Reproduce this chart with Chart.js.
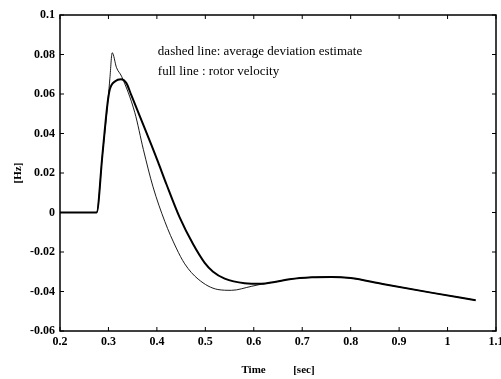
<!DOCTYPE html>
<html>
<head>
<meta charset="utf-8">
<script src="https://cdn.jsdelivr.net/npm/chart.js@4/dist/chart.umd.min.js"></script>
<style>
  html, body { margin: 0; padding: 0; background: #fff; }
  #wrap { width: 501px; height: 379px; }
</style>
</head>
<body>
<div id="wrap"><canvas id="chart" width="501" height="379"></canvas></div>
<script>
// rotor velocity (full line)
const velTime = [0.2, 0.2756, 0.2875, 0.298, 0.303, 0.314, 0.326, 0.337, 0.347, 0.368, 0.389, 0.4025, 0.4197, 0.447, 0.4746, 0.4987, 0.516, 0.540, 0.581, 0.6155, 0.643, 0.674, 0.72, 0.76, 0.80, 0.866, 0.969, 1.058];
const velHz = [0, 0, 0.029, 0.055, 0.0625, 0.0665, 0.0675, 0.0655, 0.0595, 0.0468, 0.034, 0.0255, 0.0143, -0.0025, -0.016, -0.0255, -0.03, -0.0335, -0.0358, -0.0361, -0.0352, -0.0338, -0.0328, -0.0326, -0.0332, -0.0362, -0.0407, -0.0444];

// average deviation estimate (thin line)
const estTime = [0.2, 0.2756, 0.2875, 0.2995, 0.303, 0.3078, 0.3167, 0.327, 0.3545, 0.372, 0.392, 0.4163, 0.440, 0.4575, 0.485, 0.526, 0.5536, 0.5948, 0.6155, 0.643, 0.674, 0.72, 0.76, 0.80, 0.866, 0.969, 1.058];
const estHz = [0, 0, 0.029, 0.058, 0.068, 0.0809, 0.0733, 0.069, 0.0505, 0.032, 0.013, -0.0045, -0.018, -0.026, -0.0337, -0.039, -0.0394, -0.0374, -0.0363, -0.0352, -0.0338, -0.0328, -0.0326, -0.0332, -0.0362, -0.0407, -0.0444];

const xTicks = [0.2, 0.3, 0.4, 0.5, 0.6, 0.7, 0.8, 0.9, 1.0, 1.1];
const xTickLabels = ["0.2", "0.3", "0.4", "0.5", "0.6", "0.7", "0.8", "0.9", "1", "1.1"];
const yTicks = [-0.06, -0.04, -0.02, 0, 0.02, 0.04, 0.06, 0.08, 0.1];
const yTickLabels = ["-0.06", "-0.04", "-0.02", "0", "0.02", "0.04", "0.06", "0.08", "0.1"];

const notes = ["dashed line: average deviation estimate", "full line : rotor velocity"];

function toPoints(xs, ys) {
    return xs.map((x, i) => ({ x: x, y: ys[i] }));
}

const serif = "'Liberation Serif', 'DejaVu Serif', serif";

// box round the plot with small inward ticks on all four sides, plus the legend text
const framePlugin = {
    id: "frame",
    afterDraw(chart) {
        const ctx = chart.ctx;
        const area = chart.chartArea;
        const xs = chart.scales.x, ys = chart.scales.y;
        ctx.save();
        ctx.strokeStyle = "#000";
        ctx.lineWidth = 1.5;
        ctx.strokeRect(area.left, area.top, area.right - area.left, area.bottom - area.top);

        ctx.lineWidth = 1;
        ctx.beginPath();
        xTicks.forEach(v => {
            const px = xs.getPixelForValue(v);
            ctx.moveTo(px, area.bottom); ctx.lineTo(px, area.bottom - 4);
            ctx.moveTo(px, area.top); ctx.lineTo(px, area.top + 4);
        });
        yTicks.forEach(v => {
            const py = ys.getPixelForValue(v);
            ctx.moveTo(area.left, py); ctx.lineTo(area.left + 4, py);
            ctx.moveTo(area.right, py); ctx.lineTo(area.right - 4, py);
        });
        ctx.stroke();

        ctx.fillStyle = "#000";
        ctx.font = "13px " + serif;
        ctx.textBaseline = "middle";
        ctx.textAlign = "left";
        ctx.fillText(notes[0], xs.getPixelForValue(0.402), ys.getPixelForValue(0.0815));
        ctx.fillText(notes[1], xs.getPixelForValue(0.402), ys.getPixelForValue(0.0714));
        ctx.restore();
    }
};

new Chart(document.getElementById("chart"), {
    type: "line",
    data: {
        datasets: [
            {
                label: "rotor velocity",
                data: toPoints(velTime, velHz),
                borderColor: "#000",
                borderWidth: 2,
                pointRadius: 0,
                cubicInterpolationMode: "monotone"
            },
            {
                label: "average deviation estimate",
                data: toPoints(estTime, estHz),
                borderColor: "#000",
                borderWidth: 0.9,
                pointRadius: 0,
                cubicInterpolationMode: "monotone"
            }
        ]
    },
    options: {
        responsive: false,
        animation: false,
        events: [],
        layout: { padding: { top: 15, right: 5, left: 0, bottom: 0 } },
        plugins: { legend: { display: false }, tooltip: { enabled: false } },
        scales: {
            x: {
                type: "linear",
                min: 0.2,
                max: 1.1,
                grid: { display: false, drawTicks: false },
                border: { display: false },
                afterBuildTicks(scale) { scale.ticks = xTicks.map(v => ({ value: v })); },
                afterFit(scale) { scale.height = 48; scale.paddingLeft = 0; scale.paddingRight = 0; },
                ticks: {
                    color: "#000",
                    padding: 4,
                    maxRotation: 0,
                    autoSkip: false,
                    font: { family: serif, size: 12, weight: "bold" },
                    callback: (v, i) => xTickLabels[i]
                },
                title: {
                    display: true,
                    text: "Time          [sec]",
                    color: "#000",
                    padding: { top: 0, bottom: 2 },
                    font: { family: serif, size: 11, weight: "bold" }
                }
            },
            y: {
                min: -0.06,
                max: 0.1,
                grid: { display: false, drawTicks: false },
                border: { display: false },
                afterBuildTicks(scale) { scale.ticks = yTicks.map(v => ({ value: v })); },
                afterFit(scale) { scale.width = 60; scale.paddingTop = 0; scale.paddingBottom = 0; },
                ticks: {
                    color: "#000",
                    padding: 5,
                    autoSkip: false,
                    font: { family: serif, size: 12, weight: "bold" },
                    callback: (v, i) => yTickLabels[i]
                },
                title: {
                    display: true,
                    text: "[Hz]",
                    color: "#000",
                    padding: { top: 12, bottom: 0 },
                    font: { family: serif, size: 11, weight: "bold" }
                }
            }
        }
    },
    plugins: [framePlugin]
});
</script>
</body>
</html>
